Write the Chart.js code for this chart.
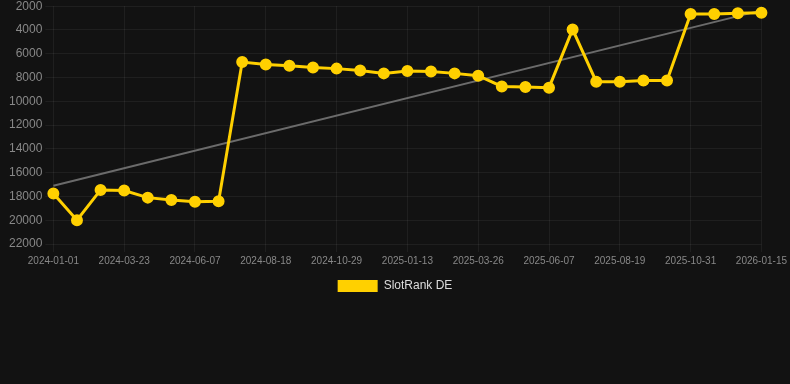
<!DOCTYPE html>
<html lang="en">
<head>
    <meta charset="UTF-8">
    <title>SlotRank DE</title>
    <script src="https://cdn.jsdelivr.net/npm/chart.js@4.4.0/dist/chart.umd.min.js"></script>
    <style>
        html, body { margin: 0; padding: 0; background: #121212; overflow: hidden; }
        .chart-box { position: relative; width: 790px; height: 306px; margin-top: -4px; }
    </style>
</head>
<body>
    <div class="chart-box">
        <canvas id="rankChart"></canvas>
    </div>

    <script>
        const labels = [
            '2024-01-01', '2024-01-28', '2024-02-24', '2024-03-23', '2024-04-18', '2024-05-13',
            '2024-06-07', '2024-07-01', '2024-07-25', '2024-08-18', '2024-09-11', '2024-10-05',
            '2024-10-29', '2024-11-24', '2024-12-19', '2025-01-13', '2025-02-06', '2025-03-02',
            '2025-03-26', '2025-04-19', '2025-05-14', '2025-06-07', '2025-07-01', '2025-07-26',
            '2025-08-19', '2025-09-12', '2025-10-07', '2025-10-31', '2025-11-25', '2025-12-21',
            '2026-01-15'
        ];
        const rankValues = [
            17750, 20000, 17450, 17500, 18100, 18300, 18450, 18400,
            6700, 6900, 7000, 7150, 7250, 7400, 7650, 7450, 7500, 7650, 7850,
            8750, 8800, 8850, 3950, 8350, 8350, 8250, 8250,
            2650, 2650, 2600, 2550
        ];
        // trend line: only its two ends
        const trendStart = 17100;
        const trendEnd = 2350;
        const trendValues = labels.map((l, i) => i === 0 ? trendStart : (i === labels.length - 1 ? trendEnd : null));

        const gridColor = 'rgba(255, 255, 255, 0.06)';
        const fontFamily = 'Arial, "Liberation Sans", sans-serif';

        new Chart(document.getElementById('rankChart'), {
            type: 'line',
            data: {
                labels: labels,
                datasets: [
                    {
                        label: 'SlotRank DE',
                        data: rankValues,
                        borderColor: '#ffd000',
                        backgroundColor: '#ffd000',
                        borderWidth: 3,
                        pointRadius: 4.5,
                        pointHoverRadius: 6,
                        tension: 0
                    },
                    {
                        label: 'Trend',
                        data: trendValues,
                        borderColor: '#6b6b6b',
                        backgroundColor: '#6b6b6b',
                        borderWidth: 2,
                        pointRadius: 0,
                        spanGaps: true,
                        order: 1
                    }
                ]
            },
            options: {
                responsive: true,
                maintainAspectRatio: false,
                animation: false,
                plugins: {
                    legend: {
                        position: 'bottom',
                        labels: {
                            color: '#dddddd',
                            font: { family: fontFamily, size: 12 },
                            boxWidth: 40,
                            boxHeight: 12,
                            generateLabels: chart => Chart.defaults.plugins.legend.labels.generateLabels(chart)
                                .filter(item => item.datasetIndex === 0)
                                .map(item => Object.assign(item, { lineWidth: 0 }))
                        }
                    },
                    tooltip: { enabled: false }
                },
                scales: {
                    x: {
                        grid: { color: gridColor, tickColor: gridColor },
                        border: { display: false },
                        ticks: {
                            color: '#888888',
                            font: { family: fontFamily, size: 10 },
                            maxRotation: 0,
                            autoSkip: true,
                            callback: function (val, idx) { return idx % 3 === 0 ? this.getLabelForValue(val) : null; }
                        }
                    },
                    y: {
                        reverse: true,
                        min: 2000,
                        max: 22000,
                        afterFit: scale => { scale.width += 6; },
                        grid: { color: gridColor, tickColor: gridColor },
                        border: { display: false },
                        ticks: {
                            stepSize: 2000,
                            color: '#888888',
                            font: { family: fontFamily, size: 12 },
                            callback: v => String(v)
                        }
                    }
                }
            }
        });
    </script>
</body>
</html>
